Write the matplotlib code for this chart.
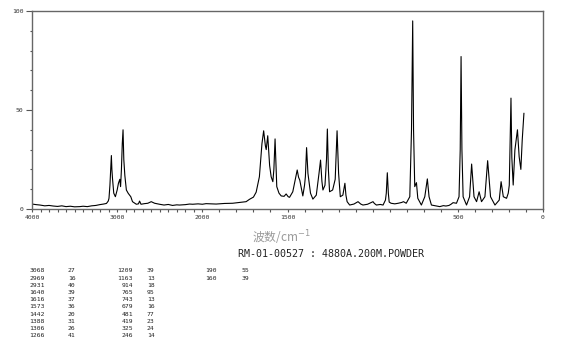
import numpy as np
import matplotlib.pyplot as plt

# spectrum (wavenumber cm-1, relative intensity)
wn = [4000, 3950, 3906, 3850, 3800, 3750, 3700, 3650, 3600, 3550, 3500, 3439, 3400,
      3350, 3300, 3250, 3205, 3160, 3126, 3105, 3096, 3085, 3072, 3068, 3062, 3055,
      3040, 3021, 3000, 2985, 2969, 2960, 2950, 2940, 2931, 2922, 2910, 2892, 2870,
      2840, 2820, 2775, 2750, 2737, 2720, 2680, 2640, 2600, 2560, 2503, 2450, 2400,
      2350, 2300, 2269, 2200, 2150, 2113, 2050, 2000, 1978, 1919, 1870, 1822, 1780,
      1743, 1723, 1700, 1684, 1665, 1650, 1640, 1630, 1625, 1616, 1605, 1596, 1586,
      1580, 1573, 1567, 1563, 1550, 1537, 1520, 1508, 1496, 1488, 1469, 1453, 1443,
      1435, 1428, 1410, 1400, 1395, 1388, 1380, 1365, 1351, 1331, 1315, 1306, 1298,
      1292, 1280, 1271, 1266, 1260, 1253, 1235, 1220, 1214, 1209, 1200, 1190, 1175,
      1169, 1163, 1157, 1150, 1135, 1110, 1086, 1070, 1057, 1030, 1018, 998, 990,
      978, 955, 939, 925, 920, 914, 908, 903, 892, 870, 850, 830, 819, 803, 782, 772,
      765, 760, 753, 743, 735, 714, 694, 679, 669, 655, 630, 606, 585, 570, 552, 540,
      528, 508, 493, 486, 481, 476, 469, 449, 431, 419, 405, 390, 375, 361, 341, 325,
      308, 282, 257, 246, 233, 214, 204, 198, 193, 188, 183, 175, 165, 150, 140, 130,
      122, 112]
inten = [2.5, 2.2, 2.0, 1.6, 1.8, 1.5, 1.3, 1.6, 1.2, 1.4, 1.1, 1.2, 1.4,
         1.2, 1.6, 1.8, 2.2, 2.5, 2.8, 4.0, 5.4, 12, 24, 27, 20, 15.5,
         8, 6.2, 9.6, 13, 15, 11.3, 20, 33, 40, 25, 17, 9.6, 7.9,
         6.2, 3.7, 2.4, 2.6, 4.0, 2.4, 2.7, 2.9, 3.7, 2.9, 2.4, 2.0, 2.3,
         1.8, 2.1, 2.0, 2.2, 2.5, 2.4, 2.6, 2.4, 2.7, 2.5, 2.8, 2.9, 3.3,
         3.7, 4.9, 6.0, 8.5, 16.3, 33, 39.5, 32, 30, 37, 22, 16.3, 13.8,
         20, 35.4, 20, 11.3, 8, 6.6, 6.4, 7.6, 6.2, 5.9, 8.7, 15.5, 19.7,
         16, 14.6, 6.6, 12, 16.3, 31, 18, 8, 5, 7, 18, 24.7, 14,
         9.6, 12, 25, 40.4, 20, 8.7, 9.6, 15, 28, 39.5, 18, 6.2, 7,
         10, 13, 7, 3.7, 2, 2.5, 3.7, 2.5, 2, 2.4, 2.9, 3.7, 2.8,
         2, 2.3, 2, 4.5, 8, 18.3, 8, 3.5, 2.9, 2.6, 2.9, 3.3, 3.7, 2.9, 6.2, 40,
         95, 40, 11.3, 13.3, 5.4, 2, 6.2, 15.2, 6.2, 2, 1.6, 1.2, 1.7, 1.5, 1.8, 2.4,
         3.2, 2.9, 6.2, 30, 77, 30, 6.2, 2, 6.2, 22.7, 6.2, 3.7, 8.7, 3.7, 6.2, 24.4,
         6.2, 2, 4.5, 13.8, 6.2, 5.4, 8, 12, 35, 56, 26, 12.1, 29.8, 40, 26.4, 20,
         34.8, 48.3]

# peak table printed under the chart
tbl_pos = [["3068", "2969", "2931", "1640", "1616", "1573", "1442", "1388", "1306", "1266"],
           ["1209", "1163", "914", "765", "743", "679", "481", "419", "325", "246"],
           ["190", "160"]]
tbl_int = [["27", "16", "40", "39", "37", "36", "20", "31", "26", "41"],
           ["39", "13", "18", "95", "13", "16", "77", "23", "24", "14"],
           ["55", "39"]]

xticks_major = [4000, 3000, 2000, 1500, 500, 0]
xtick_labels = ["4000", "3000", "2000", "1500", "500", "0"]


def fwd(w):
    w = np.asarray(w, float)
    return np.where(w <= 2000, w, 2000 + (w - 2000) / 2)


def inv(u):
    u = np.asarray(u, float)
    return np.where(u <= 2000, u, 2000 + (u - 2000) * 2)


fig = plt.figure(figsize=(5.7, 3.46), dpi=100)
ax = fig.add_axes([32 / 570, 1 - 209 / 346, 511 / 570, 198 / 346])
ax.set_xscale('function', functions=(fwd, inv))
ax.plot(wn, inten, color='black', lw=0.8)
ax.set_xlim(4000, 0)
ax.set_ylim(0, 100)

for s in ax.spines.values():
    s.set_color('#666666')
    s.set_linewidth(1.0)

ax.set_xticks(xticks_major)
ax.set_xticklabels(xtick_labels)
ax.set_xticks(np.arange(0, 4001, 100), minor=True)
ax.set_yticks([0, 50, 100])
ax.set_yticks(np.arange(0, 101, 10), minor=True)
ax.tick_params(axis='x', which='both', direction='out', length=2, width=0.8,
               color='#555555', labelsize=4.6, pad=2)
ax.tick_params(axis='y', which='major', direction='out', length=4, width=0.8,
               color='#555555', labelsize=4.6, pad=2)
ax.tick_params(axis='y', which='minor', direction='out', length=1.5, width=0.8,
               color='#555555')
for lab in ax.get_xticklabels() + ax.get_yticklabels():
    lab.set_family('DejaVu Sans Mono')
    lab.set_color('#333333')

fig.text(281 / 570, 1 - 238 / 346, '波数/cm$^{-1}$', ha='center', va='center',
         fontsize=8.5, color='#999999', family=['Noto Sans CJK SC', 'DejaVu Sans'])
fig.text(238 / 570, 1 - 254 / 346, 'RM-01-00527 : 4880A.200M.POWDER', ha='left',
         va='center', fontsize=7.2, color='#222222', family='DejaVu Sans Mono')

col_right = [45, 133, 217]
col_left = [68, 147, 242]
for c in range(3):
    for r in range(len(tbl_pos[c])):
        y = 1 - (271 + r * 7.2) / 346
        fig.text(col_right[c] / 570, y, tbl_pos[c][r], ha='right', va='center',
                 fontsize=4.6, family='DejaVu Sans Mono', color='#222222')
        fig.text(col_left[c] / 570, y, tbl_int[c][r], ha='left', va='center',
                 fontsize=4.6, family='DejaVu Sans Mono', color='#222222')

fig.savefig('out.png', dpi=100)
